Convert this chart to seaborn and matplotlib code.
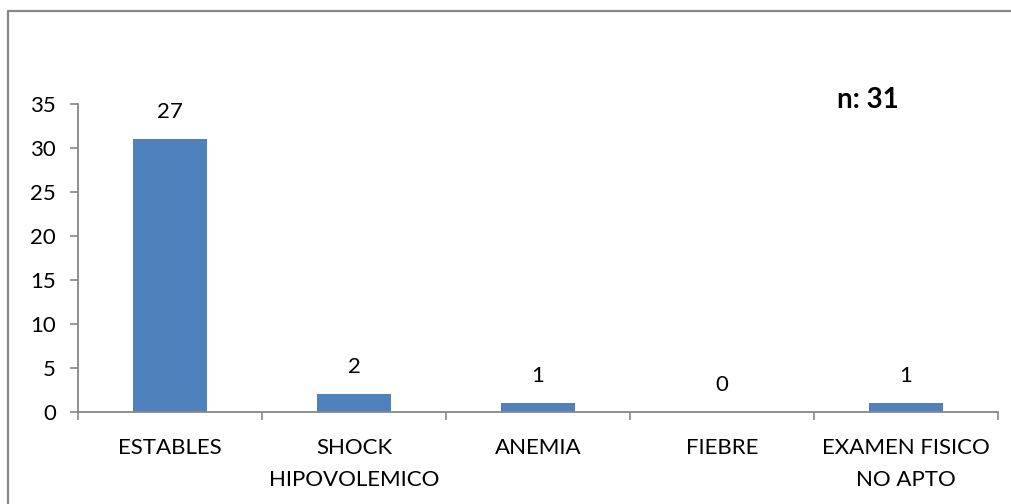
import matplotlib
matplotlib.use("Agg")
import matplotlib.pyplot as plt
import seaborn as sns
import pandas as pd
from matplotlib.lines import Line2D

categories = ["ESTABLES", "SHOCK\nHIPOVOLEMICO", "ANEMIA", "FIEBRE", "EXAMEN FISICO\nNO APTO"]
values = [31, 2, 1, 0, 1]
value_labels = ["27", "2", "1", "0", "1"]
n_text = "n: 31"
y_ticks = [0, 5, 10, 15, 20, 25, 30, 35]

sns.set_theme(style="white")
plt.rcParams['font.family'] = ['Lato', 'DejaVu Sans']

df = pd.DataFrame({"cat": categories, "val": values})

fig = plt.figure(figsize=(10.11, 5.04), dpi=100)
ax = fig.add_axes([78/1011, 1-412/504, (998-78)/1011, (412-104)/504])

sns.barplot(data=df, x="cat", y="val", color="#4F81BD", width=0.4, ax=ax,
            saturation=1, linewidth=0)

ax.set_xlim(-0.5, len(categories) - 0.5)
ax.set_ylim(0, 35)
ax.set_yticks(y_ticks)
ax.set_xlabel("")
ax.set_ylabel("")

gray = "#878787"
fs = 16
for s in ["top", "right"]:
    ax.spines[s].set_visible(False)
for s in ["left", "bottom"]:
    ax.spines[s].set_color(gray)
    ax.spines[s].set_linewidth(1.3)

ax.tick_params(axis="y", which="major", direction="out", length=6, width=1.2,
               color=gray, left=True, labelsize=fs, labelcolor="black", pad=10)
ax.set_xticks(range(len(categories)))
ax.set_xticklabels(categories, linespacing=1.75)
ax.tick_params(axis="x", which="major", length=0, labelsize=fs, labelcolor="black", pad=19)
ax.set_xticks([i - 0.5 for i in range(len(categories) + 1)], minor=True)
ax.tick_params(axis="x", which="minor", direction="out", length=6, width=1.2,
               color=gray, bottom=True)
ax.grid(False)

for i, (v, lab) in enumerate(zip(values, value_labels)):
    ax.annotate(lab, (i, v), xytext=(0, 19.5), textcoords="offset points",
                ha="center", va="center", fontsize=fs, color="black")

fig.text(868/1011, 1-100/504, n_text, ha="center", va="center",
         fontsize=20, fontweight="bold", color="black")

# outer chart frame (left and top visible)
fig.add_artist(Line2D([8/1011, 8/1011], [-0.1, 1-11/504], transform=fig.transFigure,
                      color=gray, linewidth=1.6))
fig.add_artist(Line2D([8/1011, 1.1], [1-11/504, 1-11/504], transform=fig.transFigure,
                      color=gray, linewidth=1.6))

fig.savefig("out.png", dpi=100, facecolor="white")
